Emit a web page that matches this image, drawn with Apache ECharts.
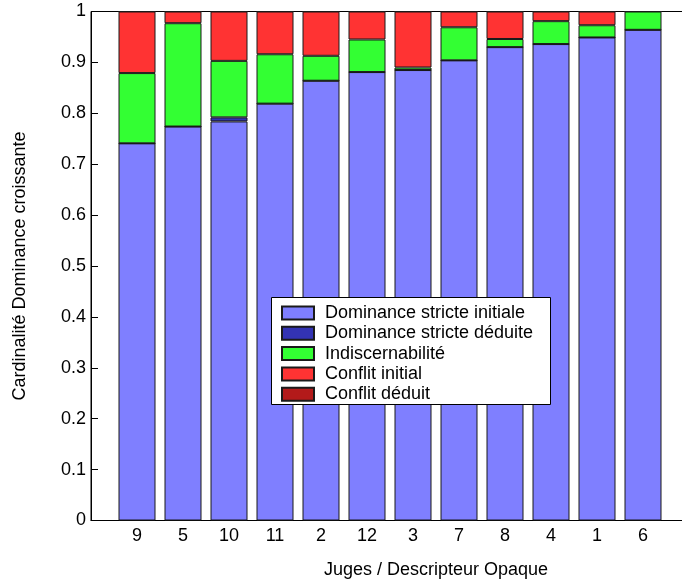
<!DOCTYPE html>
<html>
<head>
<meta charset="utf-8">
<script src="https://cdn.jsdelivr.net/npm/echarts@6/dist/echarts.min.js"></script>
<style>
  html, body { margin: 0; padding: 0; background: #fff; }
  #chart { width: 682px; height: 587px; }
</style>
</head>
<body>
<div id="chart"></div>
<script>
// Judges, ordered by increasing share of initial strict dominance
const judges = ['9', '5', '10', '11', '2', '12', '3', '7', '8', '4', '1', '6'];

const dominanceInitiale = [0.741, 0.774, 0.784, 0.819, 0.864, 0.881, 0.885, 0.904, 0.930, 0.936, 0.949, 0.964];
const dominanceDeduite  = [0.000, 0.000, 0.008, 0.000, 0.000, 0.000, 0.000, 0.000, 0.000, 0.000, 0.000, 0.000];
const indiscernabilite  = [0.138, 0.203, 0.111, 0.097, 0.049, 0.064, 0.005, 0.065, 0.016, 0.045, 0.024, 0.036];
const conflitInitial    = [0.121, 0.023, 0.097, 0.084, 0.087, 0.055, 0.110, 0.031, 0.054, 0.019, 0.027, 0.000];
const conflitDeduit     = [0.000, 0.000, 0.000, 0.000, 0.000, 0.000, 0.000, 0.000, 0.000, 0.000, 0.000, 0.000];

const yTicks = [0, 0.1, 0.2, 0.3, 0.4, 0.5, 0.6, 0.7, 0.8, 0.9, 1];

const FONT = 'Liberation Sans, Arial, Helvetica, sans-serif';
const FS = 18;

// x runs from 0 to 15: an empty slot before the judges and three after them
const xCategories = ['', ...judges, '', '', ''];
const pad = vals => ['-', ...vals, '-', '-', '-'];

function barSeries(name, vals, color) {
  return {
    name: name,
    type: 'bar',
    stack: 'total',
    barWidth: 37,
    data: pad(vals),
    itemStyle: { color: color, borderColor: '#1a1a1a', borderWidth: 1 },
    emphasis: { disabled: true },
    animation: false
  };
}

const chart = echarts.init(document.getElementById('chart'), null, { renderer: 'canvas' });
chart.setOption({
  backgroundColor: '#ffffff',
  animation: false,
  textStyle: { fontFamily: FONT },
  grid: {
    left: 91, top: 11.5, width: 690, height: 509,
    outerBoundsMode: 'none',
    containLabel: false,
    show: true, borderColor: '#000', borderWidth: 1, backgroundColor: 'transparent'
  },
  xAxis: {
    type: 'category',
    data: xCategories,
    boundaryGap: false,
    splitLine: { show: false },
    axisTick: { show: false },
    axisLine: { lineStyle: { color: '#000', width: 1 } },
    axisLabel: {
      interval: 0,
      color: '#000', fontSize: FS, fontFamily: FONT, margin: 7
    },
    name: 'Juges / Descripteur Opaque',
    nameLocation: 'middle',
    nameGap: 41,
    nameTextStyle: { color: '#000', fontSize: FS, fontFamily: FONT }
  },
  yAxis: {
    type: 'value',
    min: yTicks[0], max: yTicks[yTicks.length - 1], interval: 0.1,
    splitLine: { show: false },
    axisLine: { show: true, lineStyle: { color: '#000', width: 1 } },
    axisTick: { show: true, inside: true, length: 7, lineStyle: { color: '#000' } },
    axisLabel: {
      color: '#000', fontSize: FS, fontFamily: FONT, margin: 5,
      formatter: v => {
        const t = yTicks.find(y => Math.abs(y - v) < 1e-9);
        return t === undefined ? '' : String(t);
      }
    },
    name: 'Cardinalité Dominance croissante',
    nameLocation: 'middle',
    nameGap: 62,
    nameTextStyle: { color: '#000', fontSize: FS, fontFamily: FONT }
  },
  graphic: [{
    type: 'rect',
    shape: { x: 271.5, y: 297.5, width: 279, height: 107 },
    style: { fill: '#fff', stroke: '#000', lineWidth: 1 },
    z: 50
  }],
  legend: {
    orient: 'vertical',
    left: 281, top: 304,
    padding: 0,
    itemWidth: 32, itemHeight: 13, itemGap: 2.3,
    icon: 'rect',
    z: 60,
    selectedMode: false,
    textStyle: { color: '#000', fontSize: FS, fontFamily: FONT, padding: [0, 0, 0, 6] },
    data: ['Dominance stricte initiale', 'Dominance stricte déduite', 'Indiscernabilité', 'Conflit initial', 'Conflit déduit']
  },
  series: [
    barSeries('Dominance stricte initiale', dominanceInitiale, '#7f7fff'),
    barSeries('Dominance stricte déduite', dominanceDeduite, '#3333b3'),
    barSeries('Indiscernabilité', indiscernabilite, '#33ff33'),
    barSeries('Conflit initial', conflitInitial, '#ff3333'),
    barSeries('Conflit déduit', conflitDeduit, '#b31a1a')
  ]
});
</script>
</body>
</html>
